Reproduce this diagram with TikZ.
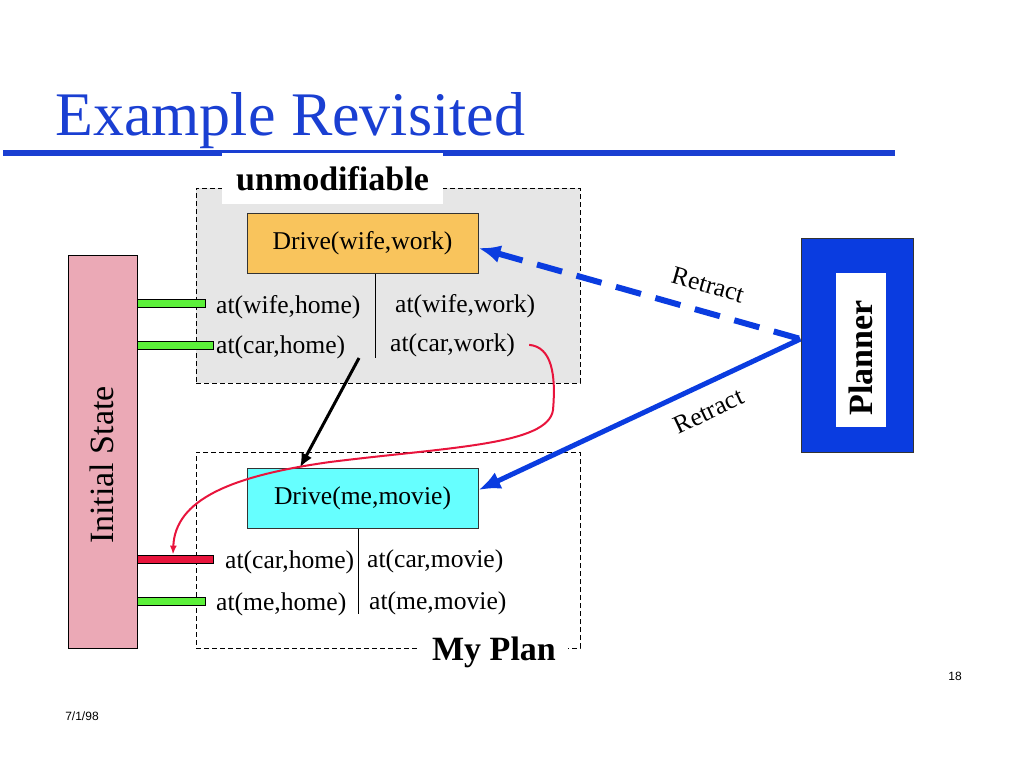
\documentclass[tikz,border=0pt]{standalone}
\usepackage{fontspec}
\setmainfont{Liberation Serif}
\newfontfamily\footfont{Liberation Sans}
\usepackage{tikz}
\usetikzlibrary{arrows.meta}
\usetikzlibrary{calc}

\definecolor{titleblue}{HTML}{1A3FD2}
\definecolor{plannerblue}{HTML}{0A3CE0}
\definecolor{drivewifefill}{HTML}{F9C45C}
\definecolor{drivemefill}{HTML}{66FFFF}
\definecolor{statefill}{HTML}{EBA9B6}
\definecolor{fixedfill}{HTML}{E6E6E6}
\definecolor{holdsgreen}{HTML}{5CF03A}
\definecolor{brokenred}{HTML}{E8143C}

\begin{document}
\begin{tikzpicture}[x=1pt, y=1pt,
	fact/.style={font=\fontsize{25.6}{30}\selectfont, inner sep=0pt, anchor=base west},
	action/.style={draw=black!80, line width=1pt, minimum width=231pt, minimum height=60pt, inner sep=0pt, font=\fontsize{25.6}{30}\selectfont},
	planbox/.style={draw, dash pattern=on 5pt off 3pt, line width=1pt, minimum width=384pt, inner sep=0pt},
	boxlabel/.style={fill=white, inner sep=0pt, font=\bfseries\fontsize{34}{40}\selectfont},
	bar/.style={draw, line width=0.8pt, minimum height=8pt, inner sep=0pt, anchor=west},
	retract/.style={plannerblue, line width=5pt, {Latex[length=22pt,width=18pt]}-},
	foot/.style={font=\footfont\fontsize{12}{14}\selectfont, inner sep=0pt}
]
\useasboundingbox (0,0) rectangle (1024,-768);

\node[anchor=base west, inner sep=0pt, text=titleblue, font=\fontsize{62}{70}\selectfont] (title) at (55,-135) {Example Revisited};
\draw[titleblue, line width=6pt] (3,-153) -- (895,-153);

\node[planbox, fill=fixedfill, minimum height=195pt] (fixedbox) at (388,-285.5) {};
\node[planbox, fill=white, minimum height=196pt] (myplanbox) at (388,-550) {};
\node[boxlabel, minimum width=221pt, minimum height=51pt] (unmod) at (332.5,-178.5) {unmodifiable};
\node[boxlabel, minimum width=148pt, minimum height=40pt] (myplan) at (494,-652) {My Plan};

\node[draw, line width=1pt, fill=statefill, minimum width=69pt, minimum height=393pt, inner sep=0pt] (initial) at (102.5,-451.5) {};
\node[rotate=90, inner sep=0pt, font=\fontsize{34}{40}\selectfont] (initiallabel) at (102,-465) {Initial State};

\node[bar, fill=holdsgreen, minimum width=68pt] (barwifehome) at (137,-303) {};
\node[bar, fill=holdsgreen, minimum width=76pt] (barcarhome) at (137,-345) {};
\node[bar, fill=brokenred, minimum width=76pt] (brokenbar) at (137,-559) {};
\node[bar, fill=holdsgreen, minimum width=68pt] (barmehome) at (137,-601) {};

\node[action, fill=drivewifefill] (drivewife) at (362.5,-243) {Drive(wife,work)};
\node[action, fill=drivemefill] (driveme) at (362.5,-498) {Drive(me,movie)};

\node[fact] (wifehome) at (216,-313) {at(wife,home)};
\node[fact] (wifework) at (395,-312) {at(wife,work)};
\node[fact] (carhome) at (216,-353) {at(car,home)};
\node[fact] (carwork) at (390,-351) {at(car,work)};
\node[fact] (carhomeplan) at (225,-568) {at(car,home)};
\node[fact] (carmovie) at (367,-567) {at(car,movie)};
\node[fact] (mehome) at (216,-610) {at(me,home)};
\node[fact] (memovie) at (369,-609) {at(me,movie)};

\draw[line width=1pt] ([xshift=12.5pt]drivewife.south) -- +(0,-84);
\draw[line width=1pt] ([xshift=-4.5pt]driveme.south) -- +(0,-85);

\node[draw=black!80, line width=1pt, fill=plannerblue, minimum width=112pt, minimum height=214pt, inner sep=0pt] (planner) at (857,-345) {};
\node[fill=white, rotate=90, minimum width=154pt, minimum height=50pt, inner sep=0pt, font=\bfseries\fontsize{34}{40}\selectfont] (plannerlabel) at (861,-350) {\hspace*{-16pt}Planner};

\coordinate (reusestart) at (359,-358);
\draw[line width=3pt, -{Latex[length=14pt,width=12pt]}] (reusestart) -- ([xshift=-62.5pt]driveme.north);

\path[retract, dash pattern=on 26pt off 15pt, line width=6pt]
([yshift=-5pt]drivewife.east) edge node[sloped, above=12pt, pos=0.69, text=black, font=\fontsize{25.6}{30}\selectfont] {Retract} ([yshift=6pt]planner.west)
;
\path[retract]
([yshift=8pt]driveme.east) edge node[sloped, below=12pt, pos=0.68, text=black, font=\fontsize{25.6}{30}\selectfont] {Retract} ([yshift=6pt]planner.west)
;

\draw[brokenred, line width=2pt, -{Latex[length=9pt,width=7pt]}]
([xshift=14pt]carwork.east) .. controls (552,-347) and (556,-375) .. (553,-410)
.. controls (548,-445) and (450,-447) .. (330,-462)
.. controls (230,-476) and (175,-500) .. ([xshift=36pt]brokenbar.north west);

\node[foot] (pageno) at (955,-676) {18};
\node[foot] (date) at (82,-716) {7/1/98};
\end{tikzpicture}
\end{document}
